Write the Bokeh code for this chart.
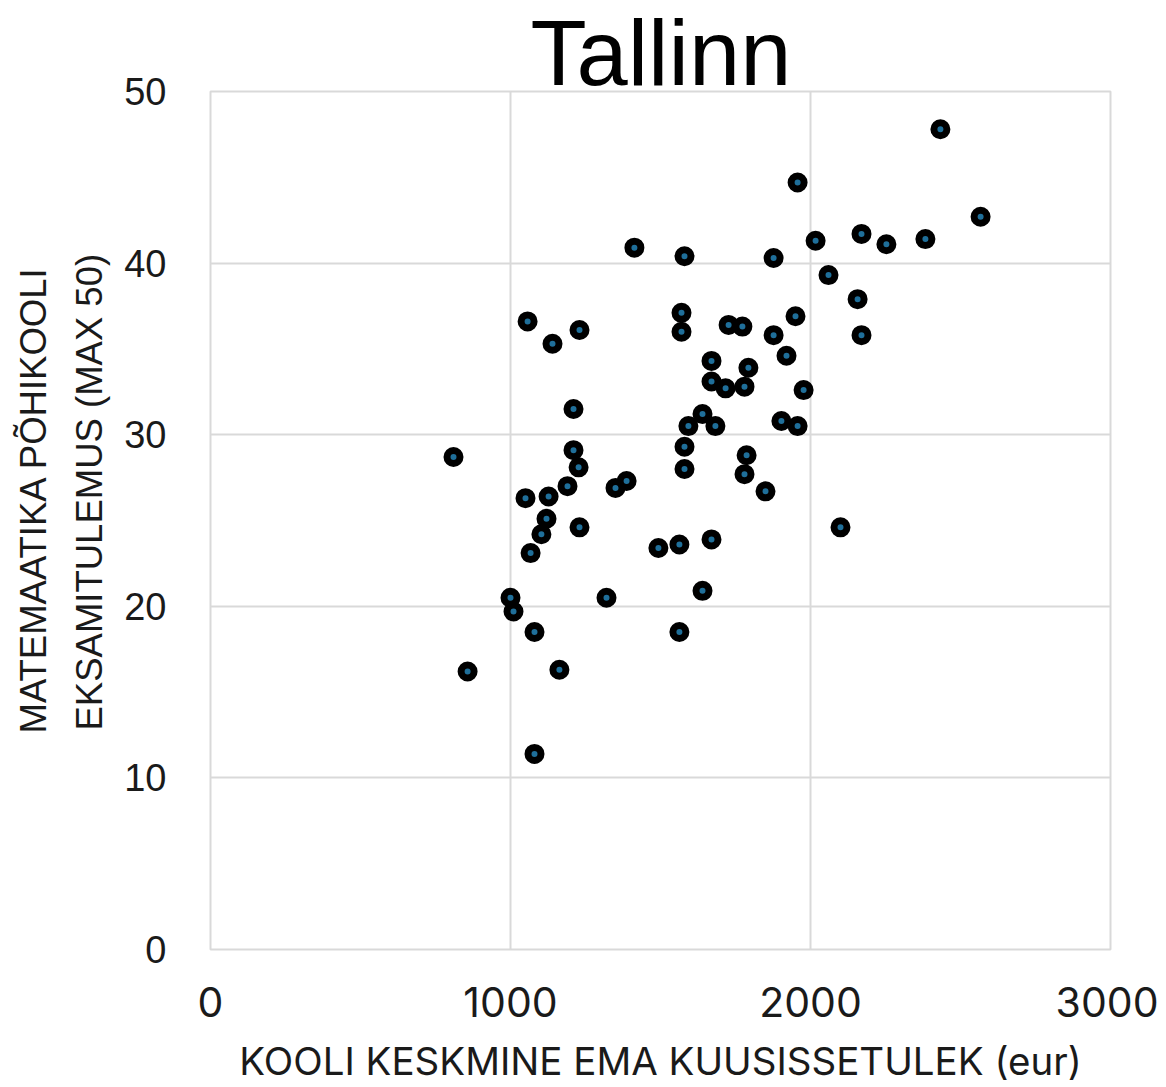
from bokeh.plotting import figure
from bokeh.models import ColumnDataSource, Title, FixedTicker
from bokeh.embed import file_html
from bokeh.resources import INLINE

# Data: school average mother's monthly income (eur) vs. basic school math exam result (max 50)
income = [810, 857, 1000, 1010, 1050, 1057, 1067, 1080, 1080, 1103,
          1120, 1127, 1140, 1163, 1190, 1210, 1210, 1227, 1230, 1230,
          1320, 1350, 1387, 1413, 1493, 1563, 1563, 1570, 1570, 1580,
          1580, 1580, 1593, 1640, 1640, 1670, 1670, 1670, 1683, 1717,
          1727, 1773, 1780, 1780, 1787, 1793, 1850, 1877, 1877, 1903,
          1920, 1950, 1957, 1957, 1977, 2017, 2060, 2100, 2157, 2170,
          2170, 2253, 2383, 2433, 2567]
score = [28.7, 16.2, 20.5, 19.7, 26.3, 36.6, 23.1, 18.5, 11.4, 24.2,
         25.1, 26.4, 35.3, 16.3, 27.0, 31.5, 29.1, 28.1, 36.1, 24.6,
         20.5, 26.9, 27.3, 40.9, 23.4, 23.6, 18.5, 37.1, 36.0, 40.4,
         29.3, 28.0, 30.5, 31.2, 20.9, 34.3, 33.1, 23.9, 30.5, 32.7,
         36.4, 36.3, 32.8, 27.7, 28.8, 33.9, 26.7, 35.8, 40.3, 30.8,
         34.6, 36.9, 44.7, 30.5, 32.6, 41.3, 39.3, 24.6, 37.9, 35.8,
         41.7, 41.1, 41.4, 47.8, 42.7]
x_ticks = [0, 1000, 2000, 3000]
y_ticks = [0, 10, 20, 30, 40, 50]

title_text = "Tallinn"
x_title = "KOOLI KESKMINE EMA KUUSISSETULEK (eur)"
y_title_1 = "MATEMAATIKA PÕHIKOOLI"
y_title_2 = "EKSAMITULEMUS (MAX 50)"

src = ColumnDataSource(data=dict(x=income, y=score))

p = figure(frame_width=900, frame_height=858,
           x_range=(0, 3000), y_range=(0, 50),
           output_backend="svg", toolbar_location=None,
           min_border_left=210, min_border_right=48,
           min_border_top=91, min_border_bottom=134)

p.title.text = title_text
p.title.text_font = "Liberation Sans"
p.title.text_font_size = "92px"
p.title.text_font_style = "normal"
p.title.text_color = "black"
p.title.align = "left"
p.title.offset = 320
p.title.standoff = -25

p.background_fill_color = "white"
p.border_fill_color = "white"
p.outline_line_color = "#d9d9d9"
p.outline_line_width = 2

for g in (p.xgrid, p.ygrid):
    g.grid_line_color = "#d9d9d9"
    g.grid_line_width = 2
p.xgrid.ticker = FixedTicker(ticks=x_ticks)
p.ygrid.ticker = FixedTicker(ticks=y_ticks)

p.xaxis.ticker = FixedTicker(ticks=x_ticks)
p.yaxis.ticker = FixedTicker(ticks=y_ticks)
for ax in (p.xaxis, p.yaxis):
    ax.axis_line_color = None
    ax.major_tick_line_color = None
    ax.minor_tick_line_color = None
    ax.major_tick_out = 0
    ax.major_tick_in = 0
    ax.major_label_text_color = "#1a1a1a"

p.yaxis.major_label_text_font = "Liberation Sans"
p.yaxis.major_label_text_font_size = "38px"
p.yaxis.major_label_standoff = 44

p.xaxis.major_label_text_font = "Inter"
p.xaxis.major_label_text_font_size = "41px"
p.xaxis.major_label_standoff = 37

p.xaxis.axis_label = x_title
p.xaxis.axis_label_text_font = "Inter"
p.xaxis.axis_label_text_font_style = "normal"
p.xaxis.axis_label_text_font_size = "38.5px"
p.xaxis.axis_label_text_color = "#1a1a1a"
p.xaxis.axis_label_standoff = 18

# Two-line y-axis title, as stacked left titles (closest first)
t2 = Title(text=y_title_2, align="left", text_font="Liberation Sans",
           text_font_size="36.5px", text_font_style="normal",
           text_color="#1a1a1a", standoff=23, offset=219)
t1 = Title(text=y_title_1, align="left", text_font="Liberation Sans",
           text_font_size="36.5px", text_font_style="normal",
           text_color="#1a1a1a", standoff=3, offset=216)
p.add_layout(t2, "left")
p.add_layout(t1, "left")

p.scatter("x", "y", source=src, size=13, marker="circle",
          fill_color="#1f6f9a", line_color="black", line_width=7)

open("out.html", "w").write(file_html(p, INLINE))
